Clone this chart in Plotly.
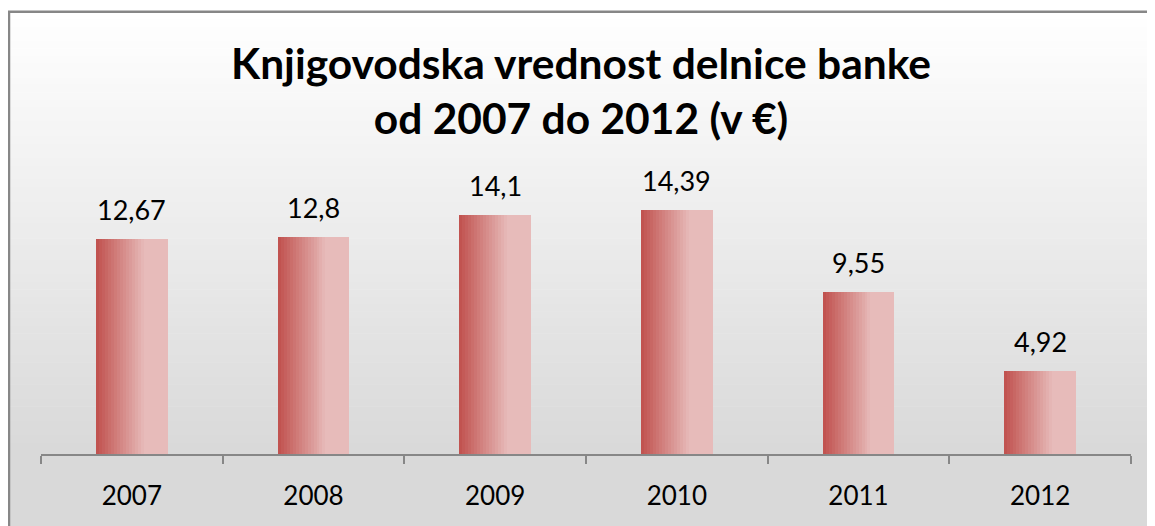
import plotly.graph_objects as go

# podatki
leta = ["2007", "2008", "2009", "2010", "2011", "2012"]
vrednosti = [12.67, 12.8, 14.1, 14.39, 9.55, 4.92]
oznake = [str(v).replace(".", ",") for v in vrednosti]

W, H = 1155, 526
ZAMIK = 8  # privzeti rob strani (body margin) v brskalniku
# robovi risalne ploskve, merjeni na zaslonu
L = 41 - ZAMIK
T = 182.5 - ZAMIK
R = W - (1131 - ZAMIK)
B = H - (454 - ZAMIK)
PW, PH = W - L - R, H - T - B


def px_x(x):
    # x na zaslonu -> paper koordinata
    return (x - ZAMIK - L) / PW


def px_y(y):
    return (H - B - (y - ZAMIK)) / PH


def mix(c1, c2, t):
    return "rgb(%d,%d,%d)" % tuple(round(a + (b - a) * t) for a, b in zip(c1, c2))


fig = go.Figure()

# stolpci z vodoravnim prelivom (sestavljeni iz prekrivajocih se rezin)
SIRINA = 0.396
N = 24
korak = SIRINA / N
temna, svetla = (192, 80, 77), (231, 187, 186)
for i in range(N):
    t = min((i + 0.5) / N / 0.68, 1.0)
    fig.add_trace(go.Bar(
        x=leta,
        y=vrednosti,
        width=korak * (2 if i < N - 1 else 1),
        offset=-SIRINA / 2 + i * korak,
        marker=dict(color=mix(temna, svetla, t), line=dict(width=0)),
        hoverinfo="skip",
        showlegend=False,
    ))

# oznake vrednosti (x kot indeks kategorije)
for k, (v, o) in enumerate(zip(vrednosti, oznake)):
    fig.add_annotation(
        x=k, y=v, text=o, showarrow=False,
        yanchor="bottom", yshift=11,
        font=dict(family="Lato", size=27, color="black"),
    )

# ozadje: siv preliv od vrha do dna
trakovi = []
zg, sp = 11, 450
n_tr = 60
for i in range(n_tr):
    y0 = zg + (sp - zg) * i / n_tr
    y1 = zg + (sp - zg) * (i + 1) / n_tr
    c = mix((255, 255, 255), (217, 217, 217), (i + 0.5) / n_tr)
    trakovi.append(dict(
        type="rect", xref="paper", yref="paper", layer="below",
        x0=px_x(8), x1=px_x(W + 20), y0=px_y(y1 + 0.5), y1=px_y(y0),
        fillcolor=c, line=dict(width=0),
    ))
trakovi.append(dict(
    type="rect", xref="paper", yref="paper", layer="below",
    x0=px_x(8), x1=px_x(W + 20), y0=px_y(H + 30), y1=px_y(sp),
    fillcolor="rgb(217,217,217)", line=dict(width=0),
))
# okvir grafikona
trakovi.append(dict(
    type="rect", xref="paper", yref="paper", layer="above",
    x0=px_x(9), x1=px_x(W + 30), y0=px_y(H + 30), y1=px_y(11),
    fillcolor="rgba(0,0,0,0)", line=dict(color="#878787", width=2.5),
))

fig.update_layout(
    width=W, height=H,
    margin=dict(l=L, r=R, t=T, b=B, autoexpand=False),
    barmode="overlay",
    bargap=0,
    paper_bgcolor="white",
    plot_bgcolor="rgba(0,0,0,0)",
    shapes=trakovi,
    font=dict(family="Lato", color="black"),
    title=dict(
        text="<b>Knjigovodska vrednost delnice banke<br>od 2007 do 2012 (v €)</b>",
        font=dict(family="Lato", size=42.5, color="black"),
        x=(581 - ZAMIK) / W, xref="container", xanchor="center",
        y=1 - 71 / H, yref="container", yanchor="top",
    ),
    xaxis=dict(
        type="category",
        range=[-0.5, 5.5],
        showline=True, linecolor="#878787", linewidth=2,
        ticks="outside", tickson="boundaries", ticklen=8,
        tickcolor="#878787", tickwidth=2,
        ticklabelstandoff=18,
        tickfont=dict(family="Lato", size=26, color="black"),
        showgrid=False, zeroline=False,
    ),
    yaxis=dict(
        range=[0, 16], visible=False,
        showgrid=False, zeroline=False,
    ),
)

fig.write_html("out.html")
